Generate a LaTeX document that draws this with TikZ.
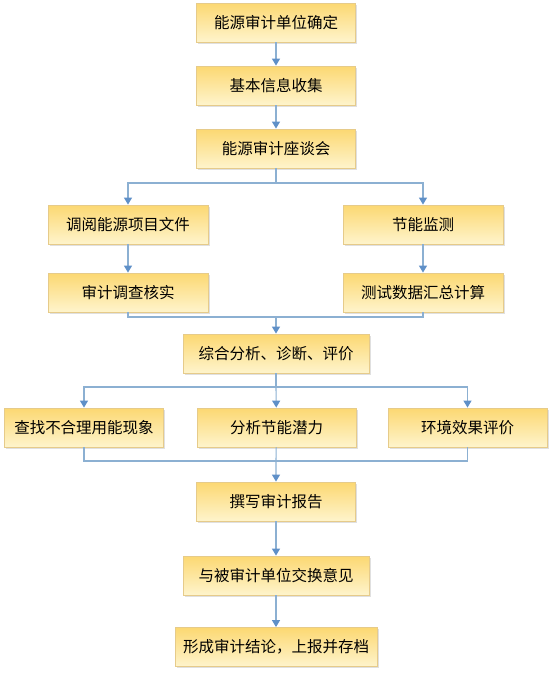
\documentclass[tikz,border=0pt]{standalone}
\usepackage{fontspec}
\newfontfamily\cjk{Noto Sans CJK SC}
\usetikzlibrary{arrows.meta,shadows}
\definecolor{boxtop}{HTML}{FCD872}
\definecolor{boxbot}{HTML}{FEF4CC}
\definecolor{boxedge}{HTML}{E6CB8A}
\definecolor{linkblue}{HTML}{8CB0D2}
\definecolor{tipblue}{HTML}{5F90C8}

\begin{document}
\begin{tikzpicture}[
x=1pt, y=-1pt,
font=\cjk\fontsize{15.5}{18}\selectfont,
stage/.style={draw=boxedge, line width=0.8pt, top color=boxtop, bottom color=boxbot, minimum width=159pt, minimum height=39pt, inner sep=0pt, drop shadow={shadow xshift=1.5pt, shadow yshift=-1.5pt, fill=black!30, opacity=0.4}},
link/.style={draw=linkblue, line width=1.1pt},
arr/.style={link, -{Triangle[length=7pt, width=8pt, color=tipblue]}}
]
\useasboundingbox (0,0) rectangle (554,678);

% Top chain
\node[stage] (unit) at (276,22.5) {能源审计单位确定};
\node[stage] (collect) at (276,85.5) {基本信息收集};
\node[stage] (meeting) at (276,148.5) {能源审计座谈会};

% Two branches
\node[stage, minimum width=160pt] (review) at (128,224.5) {调阅能源项目文件};
\node[stage, minimum width=160pt] (monitor) at (423,224.5) {节能监测};
\node[stage, minimum width=160pt] (verify) at (128,292.5) {审计调查核实};
\node[stage, minimum width=160pt] (summary) at (423,292.5) {测试数据汇总计算};

% Analysis
\node[stage, minimum width=186pt] (analysis) at (276,353.5) {综合分析、诊断、评价};
\node[stage] (waste) at (84,427.5) {查找不合理用能现象};
\node[stage] (potential) at (276.5,427.5) {分析节能潜力};
\node[stage] (environ) at (467.5,427.5) {环境效果评价};

% Report
\node[stage] (report) at (276,501.5) {撰写审计报告};
\node[stage, minimum width=186pt] (exchange) at (276,575.5) {与被审计单位交换意见};
\node[stage, minimum width=202pt] (archive) at (276,647) {形成审计结论，上报并存档};

% Connectors
\draw[arr] (unit) -- (collect);
\draw[arr] (collect) -- (meeting);

\coordinate (split1) at (276,183);
\draw[arr] (meeting) -- (split1) -| (review.north);
\draw[arr] (split1) -| (monitor.north);
\draw[arr] (review) -- (verify);
\draw[arr] (monitor) -- (summary);

\coordinate (join1) at (276,317);
\draw[link] (verify.south) |- (join1) -| (summary.south);
\draw[arr] (join1) -- (analysis);

\coordinate (split2) at (276,387);
\draw[arr] (analysis) -- (split2) -| (waste.north);
\draw[arr] (split2) -| (environ.north);
\draw[arr] (split2) -- (potential);

\coordinate (join2) at (276,461);
\draw[link] (waste.south) |- (join2) -| (environ.south);
\draw[arr] (potential) -- (join2) -- (report);

\draw[arr] (report) -- (exchange);
\draw[arr] (exchange) -- (archive);

\end{tikzpicture}
\end{document}
